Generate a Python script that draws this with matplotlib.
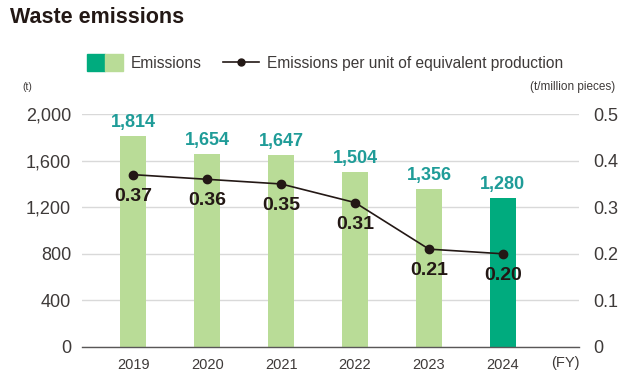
import matplotlib.pyplot as plt
from matplotlib.patches import Rectangle
from matplotlib.lines import Line2D
from matplotlib.legend_handler import HandlerBase

plt.rcParams['font.family'] = ['Liberation Sans', 'DejaVu Sans']

years = ["2019", "2020", "2021", "2022", "2023", "2024"]
emissions = [1814, 1654, 1647, 1504, 1356, 1280]
per_unit = [0.37, 0.36, 0.35, 0.31, 0.21, 0.20]

light_green = "#b9dc97"
dark_green = "#00ab7e"
teal = "#1f9c98"
ink = "#231815"
grey = "#3e3a39"

fig = plt.figure(figsize=(6.18, 3.73), dpi=100)
ax = fig.add_axes([0.133, 0.070, 0.804, 0.624])
ax2 = ax.twinx()

x = list(range(len(years)))
colors = [light_green] * (len(years) - 1) + [dark_green]
ax.bar(x, emissions, width=0.35, color=colors, zorder=2)
for xi, v in zip(x, emissions):
    ax.text(xi, v + 45, f"{v:,}", ha="center", va="bottom",
            fontsize=13, color=teal, fontweight="bold")

ax.set_ylim(0, 2000)
ax.set_xlim(-0.69, 6.03)
ax.set_yticks(range(0, 2001, 400))
ax.set_yticklabels([f"{t:,}" for t in range(0, 2001, 400)])
ax.set_xticks(x)
ax.set_xticklabels(years)
ax.grid(axis="y", color="#d9d9d9", linewidth=1, zorder=0)
ax.set_axisbelow(True)
for s in ["top", "right", "left"]:
    ax.spines[s].set_visible(False)
ax.spines["bottom"].set_color("#595757")
ax.spines["bottom"].set_linewidth(1)
ax.tick_params(axis="y", length=0, labelsize=13, labelcolor=grey, pad=8)
ax.tick_params(axis="x", length=0, labelsize=10.5, labelcolor=grey, pad=8)
ax.text(6.03 - 0.18, -0.04, "(FY)", transform=ax.get_xaxis_transform(),
        ha="center", va="top", fontsize=10.5, color=grey)

ax2.plot(x, per_unit, color=ink, linewidth=1.2, marker="o", markersize=6, zorder=3)
for xi, v in zip(x, per_unit):
    ax2.text(xi, v - 0.028, f"{v:.2f}", ha="center", va="top",
             fontsize=14, color=ink, fontweight="bold")
ax2.set_ylim(0, 0.5)
ax2.set_yticks([0, 0.1, 0.2, 0.3, 0.4, 0.5])
ax2.set_yticklabels(["0", "0.1", "0.2", "0.3", "0.4", "0.5"])
ax2.tick_params(axis="y", length=0, labelsize=13, labelcolor=grey, pad=10)
for s in ax2.spines.values():
    s.set_visible(False)

fig.text(0.016, 0.952, "Waste emissions", fontsize=15.5, fontweight="bold",
         color=ink, va="center")
fig.text(0.036, 0.768, "(t)", fontsize=7.5, color=grey, va="center")
fig.text(0.995, 0.768, "(t/million pieces)", fontsize=8.5, color=grey,
         va="center", ha="right")


class TwoTone(HandlerBase):
    def create_artists(self, legend, orig, xd, yd, w, h, fontsize, trans):
        a = Rectangle((xd, yd - 2), w / 2, h + 4, color=dark_green, transform=trans)
        b = Rectangle((xd + w / 2, yd - 2), w / 2, h + 4, color=light_green, transform=trans)
        return [a, b]


bar_handle = Rectangle((0, 0), 1, 1)
line_handle = Line2D([], [], color=ink, marker="o", markersize=5, linewidth=1.2)
fig.legend([bar_handle, line_handle],
           ["Emissions", "Emissions per unit of equivalent production"],
           handler_map={bar_handle: TwoTone()},
           loc="center left", bbox_to_anchor=(0.118, 0.83), ncol=2, frameon=False,
           fontsize=11.2, handlelength=2.3, handletextpad=0.5, columnspacing=1.4,
           labelcolor=grey)

fig.savefig("out.png", dpi=100)
